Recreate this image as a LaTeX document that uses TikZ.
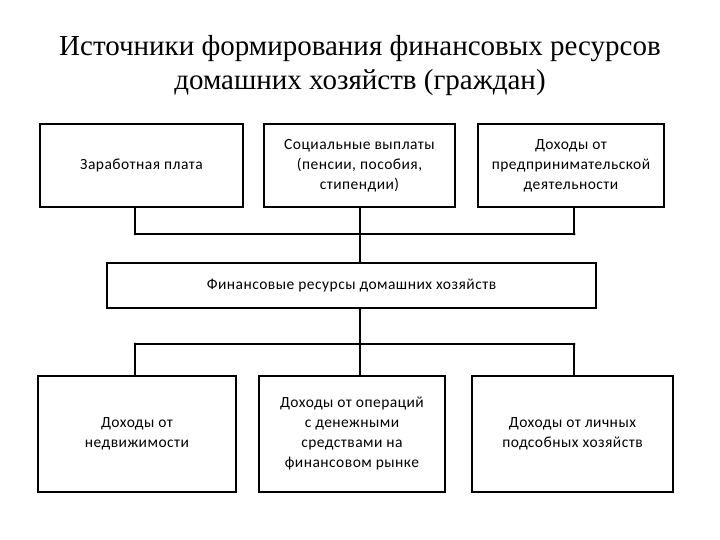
\documentclass[tikz,border=0pt]{standalone}
\usepackage{fontspec}
\setmainfont{Carlito}[LetterSpace=3]
\newfontfamily\titlefont{Liberation Serif}
\begin{document}
\begin{tikzpicture}[x=1pt,y=-1pt,
  box/.style={draw,line width=1.8pt,align=center,font=\fontsize{15.5}{20}\selectfont,inner sep=0pt},
  con/.style={line width=1.3pt},
  dotc/.style={fill,circle,inner sep=0pt,minimum size=3pt}]
\useasboundingbox (0,0) rectangle (720,540);
\node[font=\titlefont\fontsize{29}{34}\selectfont,align=center] (title) at (360,66) {Источники формирования финансовых ресурсов\\домашних хозяйств (граждан)};
\node[box,minimum width=203,minimum height=83] (a) at (141.5,165.5) {Заработная плата};
\node[box,minimum width=191,minimum height=83] (b) at (359.5,165.5) {Социальные выплаты\\(пенсии, пособия,\\стипендии)};
\node[box,minimum width=186,minimum height=83] (c) at (571,165.5) {Доходы от\\предпринимательской\\деятельности};
\node[box,minimum width=489,minimum height=45] (m) at (351.5,285.5) {Финансовые ресурсы домашних хозяйств};
\node[box,minimum width=198,minimum height=116] (d) at (137,434) {Доходы от\\недвижимости};
\node[box,minimum width=186,minimum height=116] (e) at (352,434) {Доходы от операций\\с денежными\\средствами на\\финансовом рынке};
\node[box,minimum width=201,minimum height=116] (f) at (572.5,434) {Доходы от личных\\подсобных хозяйств};
\coordinate (j1) at (135,234); \coordinate (j2) at (360,234); \coordinate (j3) at (574,234);
\coordinate (k1) at (135,344); \coordinate (k2) at (360,344); \coordinate (k3) at (574,344);
\draw[con] (a.south -| j1) -- (j1) -- (j3) -- (c.south -| j3);
\draw[con] (b.south -| j2) -- (m.north -| j2);
\draw[con] (m.south -| k2) -- (e.north -| k2);
\draw[con] (d.north -| k1) -- (k1) -- (k3) -- (f.north -| k3);
\foreach \p in {j1,j2,j3,k1,k2,k3} \node[dotc] at (\p) {};
\node[dotc] at (m.north -| j2) {}; \node[dotc] at (m.south -| k2) {};
\end{tikzpicture}
\end{document}
